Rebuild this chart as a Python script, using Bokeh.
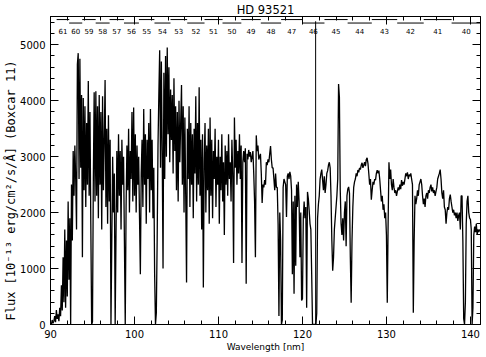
import numpy as np
from bokeh.plotting import figure
from bokeh.models import Range1d, LinearAxis, SingleIntervalTicker, Title, ColumnDataSource
from bokeh.core.properties import value
from bokeh.embed import file_html
from bokeh.resources import INLINE

# ---------------- data ----------------
wl_start = 90.0   # nm
wl_step = 0.1     # nm
flux = [
    30, 0, 80, 20, 60, 150, 40, 260, 100, 180,                 # 90
    60, 300, 150, 700, 250, 1200, 400, 1700, 300, 1500,        # 91
    500, 2200, 800, 1900, 0, 2500, 1500, 3100, 2300, 3200,     # 92
    2600, 1700, 4650, 4850, 2600, 4750, 2800, 4100, 1200, 4050,  # 93
    2400, 3900, 2100, 3600, 2500, 4350, 2300, 3800, 1800, 0,   # 94
    50, 2600, 4150, 2200, 4170, 2300, 3900, 1900, 4100, 2500,  # 95
    3800, 1700, 4080, 2400, 3300, 4370, 2100, 3500, 1800, 3740,  # 96
    2200, 3300, 0, 1500, 3000, 2000, 2700, 0, 1600, 3100,      # 97
    2000, 3400, 2300, 3100, 1700, 3300, 2500, 3000, 1500, 0,   # 98
    2100, 3200, 2400, 3500, 2000, 3100, 2600, 3800, 2200, 3880,  # 99
    2300, 3400, 2000, 3200, 2500, 3000, 1900, 900, 2700, 3300,   # 100
    2100, 3850, 2500, 3400, 1800, 3300, 2600, 3600, 2000, 3850,  # 101
    2400, 3300, 1900, 2800, 900, 0, 200, 1500, 3200, 4100,       # 102
    4900, 2800, 4700, 3100, 1000, 4500, 2600, 4800, 3000, 4950,  # 103
    3400, 4600, 2900, 4200, 3300, 4100, 2700, 4400, 3100, 3900,  # 104
    2400, 3800, 2200, 4000, 2900, 3600, 4280, 2500, 3900, 2000,  # 105
    3700, 2300, 750, 3500, 2600, 3900, 2100, 3600, 2500, 3400,   # 106
    1900, 3500, 2700, 4080, 2200, 3600, 2500, 4240, 2300, 3300,  # 107
    1700, 3400, 660, 2900, 3600, 2000, 3200, 2400, 3500, 1800,   # 108
    3700, 2300, 3300, 1900, 3100, 2600, 3500, 2100, 3000, 2500,  # 109
    3300, 1800, 3000, 2400, 3400, 2200, 2900, 1600, 3200, 2500,  # 110
    3100, 2300, 3400, 2600, 2900, 2200, 3300, 2700, 1100, 3700,  # 111
    2800, 3300, 2500, 3100, 2700, 3400, 2600, 3200, 1100, 2900,  # 112
    3100, 2900, 3150, 730, 3050, 2950, 3120, 3000, 3080, 2900,   # 113
    3000, 3100, 2700, 2200, 1200, 3380, 3100, 3200, 2950, 3000,  # 114
    3050, 2700, 2170, 2500, 2450, 2580, 2500, 2900, 2850, 2950,  # 115
    2900, 3050, 3190, 2950, 2800, 2800, 2600, 2400, 2700, 2450,  # 116
    2450, 1800, 150, 2000, 1500, 0, 80, 2450, 2600, 2550,        # 117
    2500, 1920, 2650, 2700, 2600, 2730, 2650, 2400, 900, 2200,   # 118
    550, 2300, 1050, 2500, 2100, 2550, 2200, 1200, 2000, 430,    # 119
    460, 1900, 2200, 1900, 2100, 300, 2370, 2250, 2040, 1800,    # 120
    1700, 900, 0, 0, 0, 0, 0, 200, 1900, 2150,                   # 121
    2300, 2600, 2700, 2770, 2580, 2400, 2650, 2350, 2500, 2700,  # 122
    2750, 2850, 2900, 2800, 2300, 1500, 960, 1200, 1700, 1900,   # 123
    2100, 2300, 2600, 4300, 4060, 2400, 1800, 1600, 1900, 1500,  # 124
    2000, 2200, 1400, 2300, 2420, 2460, 2350, 1200, 390, 1500,   # 125
    2100, 2450, 2550, 2600, 2700, 2650, 2760, 2720, 2800, 2770,  # 126
    2850, 2890, 2800, 2850, 2900, 2830, 2950, 2980, 2880, 2700,  # 127
    2500, 2600, 2230, 2400, 2550, 2500, 2600, 2580, 2700, 2760,  # 128
    2700, 2750, 2600, 2400, 2200, 2300, 2050, 2150, 1900, 2000,  # 129
    1600, 390, 1800, 2900, 2600, 2770, 2500, 2400, 2600, 2450,   # 130
    2350, 2400, 2300, 2380, 2450, 2400, 2500, 2420, 2580, 2480,  # 131
    2550, 2500, 2600, 2700, 2650, 2720, 2600, 2680, 2650, 2700,  # 132
    2600, 2500, 210, 1500, 2300, 2150, 2250, 2400, 2300, 2500,   # 133
    2550, 2600, 2500, 2300, 2150, 2250, 2100, 2300, 2350, 2250,  # 134
    2400, 2350, 2450, 2500, 2380, 2450, 2350, 2400, 2300, 2380,  # 135
    2450, 2600, 2650, 2700, 2770, 2600, 2350, 2250, 2400, 2100,  # 136
    2050, 1800, 2000, 2100, 2050, 2250, 2320, 2200, 2100, 2000,  # 137
    2050, 1950, 2000, 1900, 2000, 1850, 1950, 2000, 1700, 2300,  # 138
    2300, 1500, 100, 0, 400, 1800, 2200, 2300, 2000, 1900,       # 139
    1880, 1700, 0, 300, 1600, 1750, 1650, 1800, 1600, 1700,      # 140
    1650, 1700,                                                  # 141
]
wavelength = [round(wl_start + i * wl_step, 2) for i in range(len(flux))]

# echelle orders (label, wavelength range in nm)
orders = [61, 60, 59, 58, 57, 56, 55, 54, 53, 52, 51,
          50, 49, 48, 47, 46, 45, 44, 43, 42, 41, 40]
order_center = [91.48, 93.00, 94.58, 96.21, 97.89, 99.64, 101.45, 103.33, 105.28, 107.31, 109.41,
                111.60, 113.88, 116.25, 118.72, 121.30, 124.00, 126.82, 129.77, 132.86, 136.10, 139.50]
order_lo = [90.73, 92.22, 93.78, 95.38, 97.03, 98.75, 100.53, 102.38, 104.29, 106.28, 108.34,
            110.48, 112.72, 115.04, 117.46, 119.98, 122.62, 125.38, 128.26, 131.28, 134.44, 137.76]
order_hi = [92.23, 93.78, 95.38, 97.04, 98.75, 100.53, 102.37, 104.29, 106.27, 108.34, 110.49,
            112.72, 115.04, 117.46, 119.99, 122.62, 125.38, 128.26, 131.28, 134.44, 137.76, 141.25]

lyman_alpha = [121.57]

x_ticks = [90, 100, 110, 120, 130, 140]
y_ticks = [0, 1000, 2000, 3000, 4000, 5000]

title_text = "HD 93521"
x_title = "Wavelength [nm]"
y_title = "Flux [10\u207b\u00b9\u00b3 erg/cm\u00b2/s/\u00c5] (Boxcar 11)"

FONT = "DejaVu Sans"
YFONT = "DejaVu Sans Mono"
X0, X1 = 90.0, 141.2
Y0, Y1 = 0.0, 5505.0

# ---------------- figure ----------------
p = figure(width=486, height=357,
           x_range=Range1d(X0, X1), y_range=Range1d(Y0, Y1),
           output_backend="svg", toolbar_location=None,
           min_border_left=50, min_border_right=6,
           min_border_top=15, min_border_bottom=33)
p.background_fill_color = "white"
p.border_fill_color = "white"
p.outline_line_color = "black"
p.xgrid.visible = False
p.ygrid.visible = False

# title
p.title.text = title_text
p.title.align = "center"
p.title.text_font = FONT
p.title.text_font_size = "11.5px"
p.title.text_font_style = "normal"
p.title.text_color = "black"
p.title.standoff = 0

def style_axis(ax, size="10px"):
    ax.axis_line_color = "black"
    ax.major_tick_line_color = "black"
    ax.minor_tick_line_color = "black"
    ax.major_tick_in = 8
    ax.major_tick_out = 0
    ax.minor_tick_in = 4
    ax.minor_tick_out = 0
    ax.major_label_text_font = FONT
    ax.major_label_text_color = "black"
    ax.major_label_text_font_size = size

p.xaxis.ticker = SingleIntervalTicker(interval=10, num_minor_ticks=5)
p.yaxis.ticker = SingleIntervalTicker(interval=1000, num_minor_ticks=5)
style_axis(p.xaxis[0])
style_axis(p.yaxis[0])
p.xaxis.major_label_standoff = 5
p.yaxis.major_label_standoff = 5

p.xaxis.axis_label = x_title
p.xaxis.axis_label_text_font = FONT
p.xaxis.axis_label_text_font_size = "9px"
p.xaxis.axis_label_text_font_style = "normal"
p.xaxis.axis_label_text_color = "black"
p.xaxis.axis_label_standoff = 1

top = LinearAxis(ticker=SingleIntervalTicker(interval=10, num_minor_ticks=5))
style_axis(top, "1px")
top.major_label_overrides = {t: "" for t in x_ticks}
top.major_label_standoff = 0
p.add_layout(top, "above")
right = LinearAxis(ticker=SingleIntervalTicker(interval=1000, num_minor_ticks=5))
style_axis(right, "1px")
right.major_label_overrides = {t: "" for t in y_ticks}
right.major_label_standoff = 0
p.add_layout(right, "right")

# y title: starts near the bottom of the frame, like the reference
p.add_layout(Title(text=y_title, align="left", offset=4, standoff=0,
                   text_font=YFONT, text_font_size="12px", text_font_style="normal",
                   text_color="black"), "left")

# spectrum
src = ColumnDataSource(dict(wl=wavelength, f=flux))
p.line("wl", "f", source=src, line_color="black", line_width=1.3)

# Ly-alpha marker
p.segment(x0=lyman_alpha, y0=[Y0] * len(lyman_alpha), x1=lyman_alpha,
          y1=[5420] * len(lyman_alpha), line_color="black", line_width=1)

# order ranges (alternating rows) and labels
row_y = [5450 if o % 2 else 5388 for o in orders]
osrc = ColumnDataSource(dict(lo=order_lo, hi=order_hi, y=row_y, c=order_center,
                             t=[str(o) for o in orders], ty=[5250] * len(orders)))
p.segment(x0="lo", y0="y", x1="hi", y1="y", source=osrc, line_color="black", line_width=1)
p.text(x="c", y="ty", text="t", source=osrc, text_font=value(FONT),
       text_font_size=value("7px"), text_align="center", text_baseline="middle",
       text_color="black")

open("out.html", "w").write(file_html(p, INLINE))
